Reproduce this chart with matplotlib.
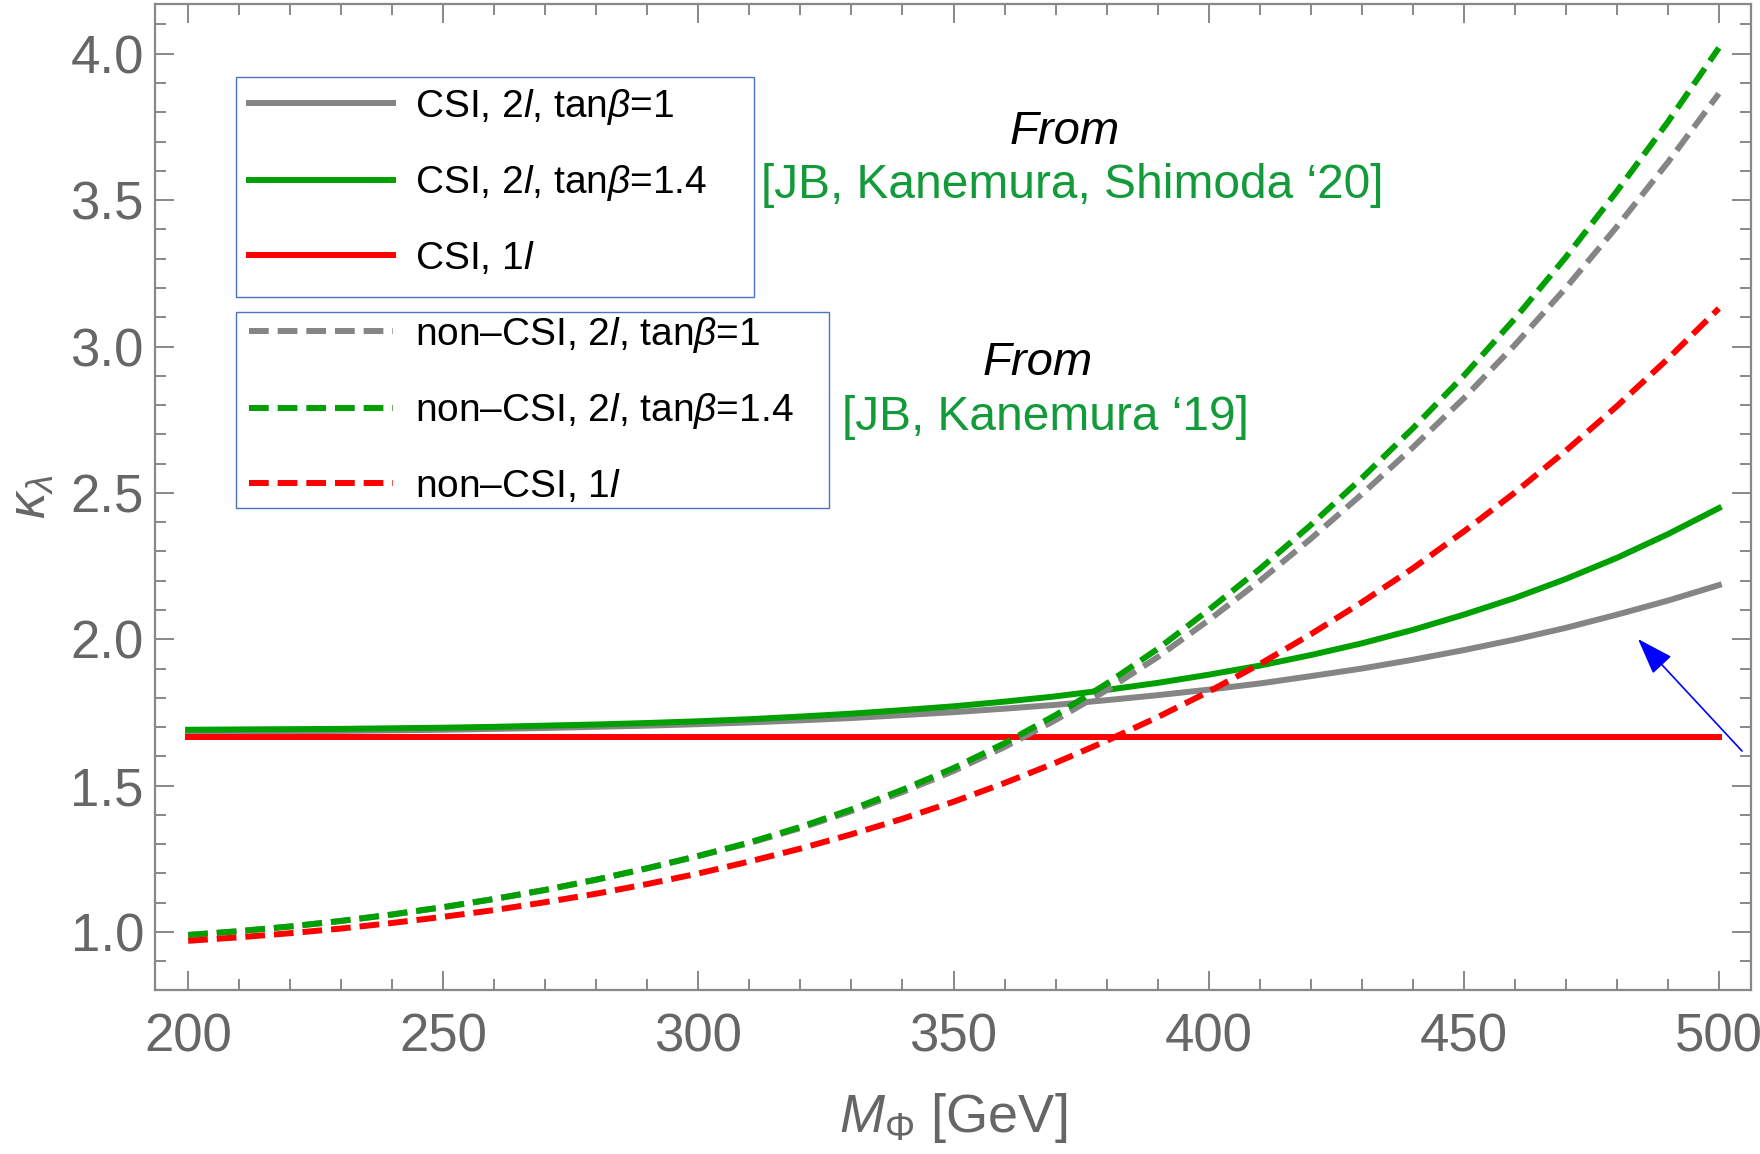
import numpy as np
import matplotlib
matplotlib.use("Agg")
import matplotlib.pyplot as plt
from matplotlib.ticker import MultipleLocator, FormatStrFormatter
from matplotlib.patches import Rectangle

plt.rcParams['font.family'] = ['Liberation Sans', 'DejaVu Sans']
plt.rcParams['mathtext.fontset'] = 'custom'
plt.rcParams['mathtext.rm'] = 'Liberation Sans'
plt.rcParams['mathtext.it'] = 'Liberation Sans:italic'

# heavy scalar mass [GeV], 10 GeV steps
mass = [200, 210, 220, 230, 240, 250, 260, 270, 280, 290, 300, 310, 320, 330, 340, 350,
        360, 370, 380, 390, 400, 410, 420, 430, 440, 450, 460, 470, 480, 490, 500]

# CSI curves
csi_2l_tb1 = [1.683, 1.684, 1.686, 1.687, 1.689, 1.691, 1.694, 1.697, 1.701, 1.705,
              1.710, 1.716, 1.723, 1.731, 1.741, 1.751, 1.763, 1.776, 1.792, 1.809,
              1.828, 1.849, 1.874, 1.900, 1.930, 1.963, 1.999, 2.039, 2.084, 2.132, 2.185]
csi_2l_tb14 = [1.691, 1.692, 1.693, 1.694, 1.696, 1.698, 1.701, 1.705, 1.709, 1.714,
               1.720, 1.727, 1.736, 1.746, 1.758, 1.771, 1.787, 1.805, 1.827, 1.851,
               1.879, 1.910, 1.946, 1.986, 2.032, 2.084, 2.141, 2.206, 2.278, 2.359, 2.448]
csi_1l = [1.667] * len(mass)

# non-CSI curves
noncsi_2l_tb1 = [0.990, 1.003, 1.019, 1.038, 1.060, 1.085, 1.113, 1.144, 1.179, 1.218,
                 1.260, 1.304, 1.355, 1.413, 1.478, 1.550, 1.632, 1.724, 1.826, 1.939,
                 2.065, 2.199, 2.343, 2.495, 2.655, 2.823, 3.005, 3.200, 3.409, 3.629, 3.864]
noncsi_2l_tb14 = [0.990, 1.003, 1.019, 1.038, 1.060, 1.085, 1.113, 1.144, 1.179, 1.218,
                  1.260, 1.306, 1.359, 1.419, 1.486, 1.560, 1.645, 1.741, 1.848, 1.967,
                  2.100, 2.240, 2.390, 2.550, 2.720, 2.900, 3.095, 3.305, 3.530, 3.767, 4.020]
noncsi_1l = [0.970, 0.982, 0.996, 1.012, 1.031, 1.052, 1.075, 1.102, 1.131, 1.164,
             1.200, 1.241, 1.285, 1.334, 1.387, 1.445, 1.509, 1.578, 1.653, 1.734,
             1.821, 1.915, 2.017, 2.126, 2.242, 2.368, 2.501, 2.644, 2.796, 2.958, 3.130]

GRAY = '#858585'
GREEN = '#00a000'
RED = '#ff0000'
TXTGREEN = '#139a3a'
BOXBLUE = '#4a72c0'

W, H = 1760, 1154
fig = plt.figure(figsize=(W / 100, H / 100), dpi=100)
ax = fig.add_axes([155 / W, 1 - 990 / H, (1751 - 155) / W, (990 - 4) / H])

lw = 4.3
dash = (3.3, 1.5)
h1, = ax.plot(mass, csi_2l_tb1, color=GRAY, lw=lw)
h2, = ax.plot(mass, csi_2l_tb14, color=GREEN, lw=lw)
h3, = ax.plot(mass, csi_1l, color=RED, lw=lw)
h4, = ax.plot(mass, noncsi_2l_tb1, color=GRAY, lw=lw, dashes=dash)
h5, = ax.plot(mass, noncsi_2l_tb14, color=GREEN, lw=lw, dashes=dash)
h6, = ax.plot(mass, noncsi_1l, color=RED, lw=lw, dashes=dash)

ax.set_xlim(193.5, 506.3)
ax.set_ylim(0.802, 4.17)
ax.xaxis.set_major_locator(MultipleLocator(50))
ax.xaxis.set_minor_locator(MultipleLocator(10))
ax.yaxis.set_major_locator(MultipleLocator(0.5))
ax.yaxis.set_minor_locator(MultipleLocator(0.1))
ax.yaxis.set_major_formatter(FormatStrFormatter('%.1f'))

axcol = '#888888'
for s in ax.spines.values():
    s.set_color(axcol)
    s.set_linewidth(1.6)
ax.tick_params(which='both', direction='in', top=True, right=True, color=axcol,
               labelcolor='#666666', labelsize=38, width=1.4)
ax.tick_params(which='major', length=14)
ax.tick_params(which='minor', length=8)
ax.tick_params(axis='x', pad=16)
ax.tick_params(axis='y', pad=8)

ax.set_xlabel(r'$M_\Phi$ [GeV]', fontsize=39, color='#666666', labelpad=21)
ax.set_ylabel(r'$\kappa_\lambda$', fontsize=38, color='#666666', labelpad=10)

# legends (frames drawn separately as plain blue rectangles)
leg_kw = dict(fontsize=28, handlelength=3.7, handletextpad=0.57, labelspacing=0.94,
              borderpad=0, frameon=False, borderaxespad=0,
              bbox_transform=fig.transFigure, loc='center left')
leg1 = ax.legend([h1, h2, h3],
                 [r'CSI, 2$l$, tan$\beta$=1', r'CSI, 2$l$, tan$\beta$=1.4', r'CSI, 1$l$'],
                 bbox_to_anchor=(249 / W, 1 - 182 / H), **leg_kw)
ax.add_artist(leg1)
leg2 = ax.legend([h4, h5, h6],
                 [r'non–CSI, 2$l$, tan$\beta$=1', r'non–CSI, 2$l$, tan$\beta$=1.4',
                  r'non–CSI, 1$l$'],
                 bbox_to_anchor=(249 / W, 1 - 410 / H), **leg_kw)
for x0, y0, x1, y1 in [(236, 77, 754, 297), (236, 312, 829, 508)]:
    fig.add_artist(Rectangle((x0 / W, 1 - y1 / H), (x1 - x0) / W, (y1 - y0) / H,
                             transform=fig.transFigure, fill=False, ec=BOXBLUE, lw=1.0))

# references
fig.text(1065 / W, 1 - 132 / H, 'From', fontsize=34, style='italic',
         ha='center', va='center', color='black')
fig.text(1072 / W, 1 - 186 / H, '[JB, Kanemura, Shimoda ‘20]', fontsize=34.5,
         ha='center', va='center', color=TXTGREEN)
fig.text(1038 / W, 1 - 363 / H, 'From', fontsize=34, style='italic',
         ha='center', va='center', color='black')
fig.text(1045 / W, 1 - 417 / H, '[JB, Kanemura ‘19]', fontsize=34.5,
         ha='center', va='center', color=TXTGREEN)

ax.annotate('', xy=(1638, H - 639), xycoords='figure pixels',
            xytext=(1742, H - 751), textcoords='figure pixels',
            arrowprops=dict(arrowstyle='-|>,head_length=1.15,head_width=0.4',
                            color='#0000ff', lw=1.2, mutation_scale=20,
                            shrinkA=0, shrinkB=0),
            annotation_clip=False)

fig.savefig('out.png', dpi=100)
